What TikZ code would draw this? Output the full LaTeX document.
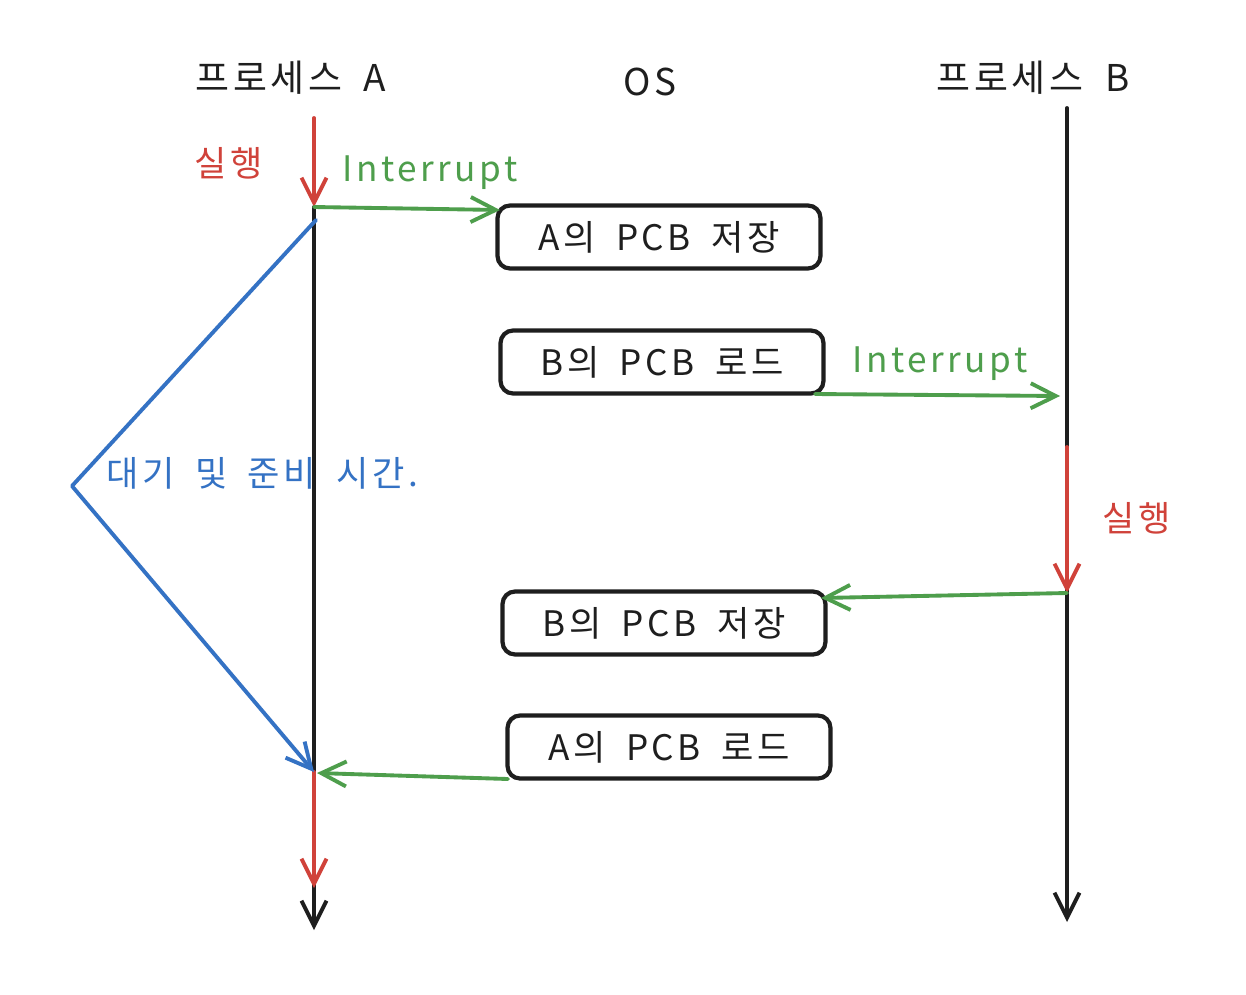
\documentclass[tikz,border=0pt]{standalone}
\usepackage{fontspec}
\setmainfont{Noto Sans CJK KR}[LetterSpace=10,WordSpace=1.8]
\usetikzlibrary{arrows.meta}
\definecolor{cred}{RGB}{208,66,58}
\definecolor{cgreen}{RGB}{78,158,76}
\definecolor{cblue}{RGB}{52,114,196}
\definecolor{cblack}{RGB}{30,30,30}
\tikzset{
  line/.style={line width=2.2pt, line cap=round, line join=round},
  tip/.style={-{Straight Barb[length=0.5cm,width=0.5cm,line width=2.2pt]}},
  pbox/.style={draw=cblack, line width=2.4pt, rounded corners=0.25cm, minimum width=6.46cm, minimum height=1.26cm, inner sep=0pt, font=\fontsize{20}{24}\selectfont, text=cblack},
  title/.style={font=\fontsize{21}{25}\selectfont, text=cblack},
  lbl/.style={font=\fontsize{20}{24}\selectfont, inner sep=0pt},
}
\begin{document}
\begin{tikzpicture}[x=0.02cm,y=-0.02cm]
\fill[white] (0,0) rectangle (1246,994);
% titles
\node[title] (tA) at (291,78) {프로세스 A};
\node[title] (tOS) at (650,82) {OS};
\node[title] (tB) at (1033,78) {프로세스 B};
% timeline coordinates
\coordinate (a0) at (314,118);
\coordinate (a1) at (314,207);
\coordinate (a2) at (314,772);
\coordinate (a3) at (314,888);
\coordinate (a4) at (314,930);
\coordinate (b0) at (1067,108);
\coordinate (b2) at (1067,447);
\coordinate (b3) at (1067,593);
\coordinate (b4) at (1067,922);
% boxes
\node[pbox] (box1) at (659,237) {A의 PCB 저장};
\node[pbox] (box2) at (662,362) {B의 PCB 로드};
\node[pbox] (box3) at (664,623) {B의 PCB 저장};
\node[pbox] (box4) at (669,747) {A의 PCB 로드};
% timelines
\draw[line, cblack, tip] (a1) -- (a4);
\draw[line, cblack, tip] (b0) -- (b4);
\draw[line, cred, tip] (a0) -- (a1);
\draw[line, cred, tip] (a2) -- (a3);
\draw[line, cred, tip] (b2) -- (b3);
% red labels
\node[lbl, text=cred] (run1) at (229,163) {실행};
\node[lbl, text=cred] (run2) at (1137,518) {실행};
% green interrupts
\coordinate (g1) at (500,210);
\draw[line, cgreen, tip] (a1) -- (g1);
\node[lbl, text=cgreen] (int1) at (430,173) {Interrupt};
\coordinate (g2) at (815,394);
\coordinate (g2e) at (1060,396);
\draw[line, cgreen, tip] (g2) -- (g2e);
\node[lbl, text=cgreen] (int2) at (940,364) {Interrupt};
\coordinate (g3) at (821,598);
\draw[line, cgreen, tip] (b3) -- (g3);
\coordinate (g4) at (508,779);
\coordinate (g4e) at (317,773);
\draw[line, cgreen, tip] (g4) -- (g4e);
% blue wait
\coordinate (w0) at (316,220);
\coordinate (w1) at (72,486);
\draw[line, cblue, tip] (w0) -- (w1) -- (a2);
\node[lbl, text=cblue, anchor=west] (wait) at (106,473) {대기 및 준비 시간.};
\end{tikzpicture}
\end{document}
